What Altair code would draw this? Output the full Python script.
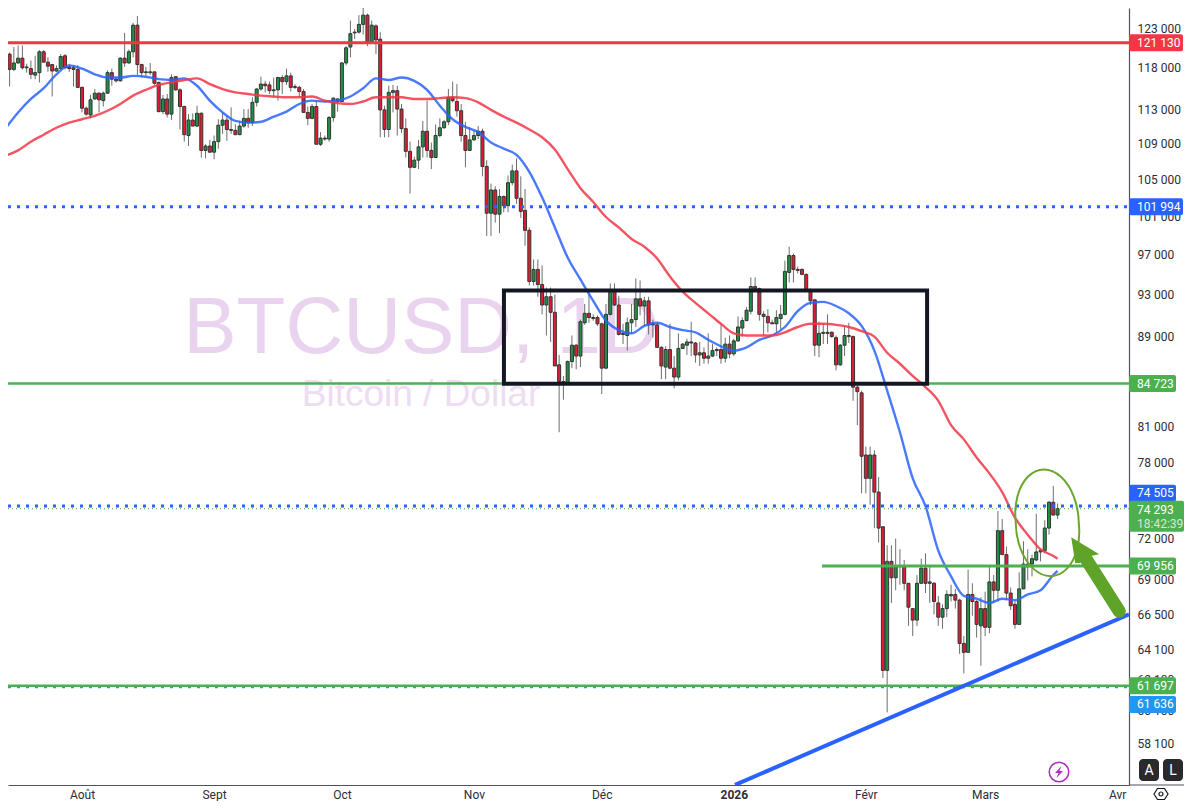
import altair as alt
import pandas as pd

# Daily BTCUSD candles: (open, high, low, close) in thousands of dollars
candles_2025_07 = [
(117.3,119.5,117.2,119.1),(119.0,123.3,118.9,119.7),(119.7,119.9,115.7,117.8),(117.8,120.6,117.6,118.6),(118.6,120.8,118.5,119.2),
(119.2,120.8,117.8,118.0),(118.1,118.5,117.4,118.0),(117.9,118.9,116.6,117.2),(117.1,119.5,116.6,117.4),(117.4,120.2,116.2,120.0),
(120.0,120.2,118.7,118.7),(118.7,119.3,117.5,118.2),(118.4,118.5,114.5,117.6),(117.6,118.3,117.5,117.9),(117.9,119.7,117.8,119.4),
(119.5,119.7,117.8,118.0),(118.1,118.5,117.5,117.9),(118.0,118.3,115.7,117.8),(117.8,118.3,115.5,115.6)]
candles_2025_08 = [
(115.6,115.7,112.6,113.1),(113.1,113.3,112.2,112.4),(112.3,114.7,111.9,114.1),(114.2,115.4,114.1,114.9),(114.9,115.0,112.6,114.1),
(114.0,115.1,113.3,114.9),(114.9,117.7,114.8,117.4),(117.4,117.9,115.8,116.6),(116.6,116.8,116.2,116.4),(116.4,119.3,116.3,119.2),
(119.2,122.4,118.1,118.6),(118.6,120.3,118.5,120.0),(120.0,123.7,119.3,123.4),(123.4,124.6,117.1,118.4),(118.4,118.5,116.8,117.4),
(117.4,118.1,117.0,117.5),(117.4,118.6,117.1,117.5),(117.5,117.5,115.9,116.1),(116.2,116.3,112.6,112.7),(112.7,114.7,112.4,114.2),
(114.2,114.8,112.0,112.4),(112.4,117.2,111.7,116.8),(116.9,116.9,115.2,115.3),(115.3,115.5,110.6,113.3),(113.3,113.4,109.2,110.0),
(109.9,112.4,108.7,111.7),(111.7,112.5,111.0,111.0),(111.0,113.4,110.9,112.5),(112.5,112.6,107.4,108.2),(108.2,108.9,107.3,108.7),
(108.7,109.4,107.9,108.0)]
candles_2025_09 = [
(108.0,109.9,107.2,109.2),(109.2,111.8,108.4,111.1),(111.1,112.6,110.1,111.7),(111.7,112.2,109.3,110.6),(110.6,113.2,110.1,110.5),
(110.5,111.2,110.0,110.0),(110.0,111.6,110.0,111.0),(111.0,113.0,110.8,111.9),(111.9,113.0,110.8,111.4),(111.4,114.4,111.0,113.8),
(113.8,115.5,113.3,115.4),(115.4,116.9,115.2,116.0),(116.0,116.4,115.0,115.8),(115.9,116.3,114.8,115.2),(115.2,116.8,114.4,115.3),
(115.3,116.9,114.0,116.8),(116.8,117.1,114.8,116.3),(116.3,117.9,115.9,117.0),(117.0,117.4,115.1,115.6),(115.6,116.0,115.4,115.7),
(115.6,115.8,114.4,115.1),(115.1,115.4,112.6,112.6),(112.6,113.3,111.1,111.9),(111.9,113.6,111.8,113.3),(113.3,114.0,108.9,108.9),
(108.9,110.3,108.7,109.6),(109.6,109.9,109.3,109.5),(109.5,112.2,109.2,112.0),(112.0,114.4,111.5,114.3),(114.2,114.3,112.7,113.9)]
candles_2025_10 = [
(113.9,118.7,113.9,118.6),(118.6,120.7,118.3,120.5),(120.6,124.0,119.3,122.3),(122.4,122.9,121.6,122.5),(122.5,124.7,122.3,123.5),
(123.5,126.2,122.2,124.7),(124.7,124.9,120.7,121.2),(121.3,124.0,121.2,123.4),(123.3,123.5,119.7,121.5),(121.6,122.5,109.7,112.9),
(112.9,113.4,109.7,110.6),(110.6,115.8,109.7,115.0),(115.0,115.9,112.6,115.2),(115.2,115.8,109.9,113.0),(113.0,113.6,110.2,110.7),
(110.7,111.9,107.4,108.1),(108.1,109.2,103.4,106.3),(106.3,107.5,106.2,107.1),(107.1,109.4,106.1,108.6),(108.6,111.6,107.4,110.4),
(110.4,114.0,107.4,108.2),(108.2,109.1,106.1,107.4),(107.4,111.2,107.4,109.9),(109.9,111.9,109.7,110.8),(110.8,111.7,110.7,111.5),
(111.5,115.4,111.1,114.4),(114.4,116.3,113.8,114.0),(113.9,116.0,112.1,112.8),(112.8,113.6,109.2,109.9),(109.9,111.5,106.3,108.2),
(108.2,110.9,108.2,109.4)]
candles_2025_11 = [
(109.4,110.5,109.3,109.9),(109.9,111.0,109.5,110.4),(110.4,110.7,105.3,106.4),(106.4,107.1,98.9,101.3),(101.3,104.5,98.9,103.8),
(103.8,104.2,100.3,101.2),(101.2,103.9,99.2,103.1),(103.1,103.2,101.4,102.1),(102.1,105.4,101.4,104.6),(104.6,106.6,104.3,105.9),
(105.9,107.3,102.3,102.9),(102.9,105.3,100.8,101.5),(101.6,103.9,97.9,99.5),(99.5,99.8,93.9,94.3),(94.3,96.5,93.9,95.5),
(95.5,96.5,92.8,94.0),(94.0,95.9,91.1,92.0),(92.0,93.7,89.1,92.8),(92.8,93.7,88.5,91.3),(91.3,93.0,86.3,86.3),
(86.4,87.3,80.5,84.9),(84.9,85.4,83.3,84.7),(84.7,86.8,84.7,86.7),(86.7,89.1,86.1,88.2),(88.2,88.3,86.0,87.2),
(87.2,90.6,86.2,90.4),(90.3,92.1,90.1,91.2),(91.2,93.2,90.3,90.8),(90.8,91.1,90.5,90.7),(90.8,91.0,90.0,90.2)]
candles_2025_12 = [
(90.2,90.3,83.8,86.1),(86.1,92.1,86.0,91.1),(91.1,94.1,91.0,93.3),(93.3,94.1,91.9,92.0),(92.0,92.9,89.1,89.2),
(89.3,90.2,88.3,89.2),(89.1,90.8,87.7,90.3),(90.3,92.1,89.3,90.6),(90.6,94.6,89.9,92.6),(92.6,94.4,91.0,91.9),
(91.9,92.8,90.0,92.4),(92.4,92.8,89.2,90.1),(90.2,90.6,88.9,90.1),(90.1,90.3,88.0,88.0),(88.0,88.1,85.1,86.3),
(86.2,88.1,85.1,87.8),(87.8,90.2,86.0,86.1),(86.1,87.2,84.3,85.3),(85.3,89.3,85.0,87.9),(87.9,88.4,87.9,88.3),
(88.2,88.8,87.3,88.5),(88.5,90.4,87.2,88.4),(88.4,88.5,86.6,87.3),(87.3,88.5,86.3,87.5),(87.5,88.0,86.5,87.0),
(87.0,89.3,86.5,87.2),(87.2,88.3,87.1,87.7),(87.7,88.0,87.2,87.8),(87.8,90.2,86.5,87.0),(87.0,88.9,86.6,88.3),
(88.3,89.1,87.0,87.4)]
candles_2026_01 = [
(87.4,88.8,87.2,88.6),(88.6,90.9,88.5,89.9),(89.8,90.8,89.0,90.5),(90.5,91.8,90.5,91.5),(91.4,94.7,91.1,93.8),
(93.8,94.7,93.4,93.6),(93.6,93.7,90.5,91.1),(91.1,91.4,89.1,90.9),(90.9,91.6,89.4,90.3),(90.3,90.6,90.2,90.2),
(90.2,91.5,89.4,90.8),(90.7,92.0,89.7,91.1),(91.1,96.4,91.0,95.3),(95.2,97.8,94.2,96.9),(96.9,97.1,94.2,95.5),
(95.5,95.8,95.1,95.4),(95.5,95.6,95.0,95.0),(95.0,95.1,93.4,93.5),(93.5,93.6,92.0,92.4),(92.5,92.5,87.2,88.2),
(88.2,90.4,87.1,89.3),(89.3,90.2,88.3,89.4),(89.3,91.1,88.3,89.4),(89.4,89.5,88.9,89.0),(88.9,89.1,85.9,86.4),
(86.4,88.3,86.3,88.2),(88.2,90.0,87.2,89.1),(89.1,90.3,88.4,89.0),(89.0,89.1,83.2,84.4),(84.4,84.5,81.1,84.0),
(83.9,84.1,75.5,78.5)]
candles_2026_02 = [
(78.6,79.3,75.5,76.7),(76.7,79.3,74.6,78.6),(78.6,79.0,72.8,75.6),(75.6,76.8,71.7,72.8),(72.9,72.9,62.2,62.7),
(62.7,71.5,60.0,70.3),(70.3,71.5,67.3,69.1),(69.1,72.0,68.2,70.0),(70.0,71.2,68.6,69.9),(70.0,70.4,68.2,68.7),
(68.7,68.7,65.7,67.0),(66.9,66.9,65.0,66.1),(66.1,69.3,65.7,68.7),(68.7,70.5,68.7,69.8),(69.8,70.9,68.0,68.7),
(68.7,70.0,67.3,68.8),(68.7,68.8,66.5,67.4),(67.3,67.8,65.7,66.3),(66.3,67.2,65.5,66.9),(66.9,68.2,66.3,67.9),
(67.9,68.6,67.4,67.8),(67.9,68.3,66.9,67.5),(67.5,67.6,63.8,64.5),(64.5,65.0,62.5,63.9),(63.9,69.7,63.9,67.9),
(67.9,68.7,66.4,67.4),(67.4,67.5,64.9,65.8),(65.7,67.7,63.0,66.9)]
candles_2026_03 = [
(66.9,68.1,65.0,65.6),(65.6,70.0,65.2,68.8),(68.8,69.3,67.3,68.2),(68.2,74.1,67.4,72.6),(72.6,73.5,70.8,70.8),
(70.8,71.4,67.5,68.0),(68.0,68.4,66.8,67.1),(67.2,67.5,65.5,65.8),(65.8,69.5,65.8,68.3),(68.3,71.8,68.3,70.1),
(69.9,71.2,68.9,70.1),(70.1,70.8,69.2,70.5),(70.4,73.9,70.3,71.0),(71.0,71.2,70.3,71.1),(71.1,73.4,70.9,72.8),
(72.8,74.9,72.3,74.8),(74.8,76.1,73.8,73.8),(73.8,74.7,73.5,74.3)]

# Moving averages, one reading every third day from 14 July 2025, then the last candle
ema_fast = [110.7,112.6,114.2,115.5,117.2,118.3,117.9,117.2,116.8,116.8,
117.0,116.9,116.6,116.5,116.7,115.8,114.0,112.6,111.6,111.4,
111.5,112.1,112.7,113.6,114.0,113.9,114.0,114.5,115.5,116.7,
116.5,116.8,116.4,115.3,113.4,111.8,110.9,110.3,109.1,108.4,
107.7,105.8,103.0,99.8,96.7,94.5,92.4,90.5,89.6,89.3,
90.0,90.3,89.9,89.6,89.4,88.7,88.1,87.7,88.0,88.7,
89.1,89.9,91.4,92.2,92.3,91.9,91.2,90.0,87.7,84.1,
80.5,76.7,74.5,71.1,69.2,67.8,67.6,67.3,67.6,67.5,
67.9,68.2,69.3,69.6]
ema_slow = [107.6,108.2,109.2,110.0,110.8,111.4,111.8,112.2,112.8,113.6,
114.6,115.3,115.9,116.2,116.5,116.7,116.0,115.4,115.0,114.8,
114.6,114.5,114.4,114.4,114.5,114.0,113.7,113.6,113.9,114.4,
114.4,114.4,114.2,114.2,114.3,114.4,114.3,113.8,112.9,112.1,
111.4,110.6,109.7,108.3,106.1,104.0,102.5,100.9,99.8,98.6,
97.8,96.6,94.8,93.3,92.2,91.2,90.2,89.3,89.1,89.1,
89.1,89.4,89.9,90.2,90.2,90.1,89.9,89.5,89.0,87.5,
86.5,85.4,84.4,83.2,81.1,79.9,78.4,77.1,75.6,73.6,
72.3,71.2,70.7,70.5]

price_ticks = [123000,118000,113000,109000,105000,101000,97000,93000,89000,81000,78000,72000,69000,66500,64100,62100,60100,58100]
month_ticks = ["2025-08-01","2025-09-01","2025-10-01","2025-11-01","2025-12-01","2026-01-01","2026-02-01","2026-03-01","2026-04-01"]
month_names = ["2026","Févr","Mars","Avr","Mai","Juin","Juil","Août","Sept","Oct","Nov","Déc"]

tag_text = ["121 130","101 994","84 723","74 505","69 956","61 697","61 636"]
tag_pos = [121130,101994,84723,75500,69956,61697,60500]
tag_color = ["#f23645","#2962ff","#4caf50","#2962ff","#4caf50","#4caf50","#2196f3"]
tag_end = [1175,1175,1168,1168,1168,1168,1168]

RED, BLUE, GREEN, SKY = "#f23645", "#2962ff", "#4caf50", "#2196f3"
FONT = "Roboto"
W, H = 1121, 777


def ms(s):
    return int(pd.Timestamp(s).value // 10**6)


x_dom = [ms("2025-07-14T15:00:00"), ms("2026-04-03T18:30:00")]
y_dom = [55596, 125640]
xs = alt.Scale(type="utc", domain=x_dom, padding=0, nice=False)
ys = alt.Scale(type="log", domain=y_dom, nice=False)


def iso(t):
    return t.strftime("%Y-%m-%dT%H:%M:%SZ")


rows = []
for start, month in [("2025-07-13", candles_2025_07), ("2025-08-01", candles_2025_08), ("2025-09-01", candles_2025_09),
                     ("2025-10-01", candles_2025_10), ("2025-11-01", candles_2025_11), ("2025-12-01", candles_2025_12),
                     ("2026-01-01", candles_2026_01), ("2026-02-01", candles_2026_02), ("2026-03-01", candles_2026_03)]:
    for i, (o, h, l, c) in enumerate(month):
        rows.append({"date": iso(pd.Timestamp(start) + pd.Timedelta(days=i)),
                     "open": o * 1000, "high": h * 1000, "low": l * 1000, "close": c * 1000})
candles = pd.DataFrame(rows)

ema_dates = [iso(pd.Timestamp("2025-07-14") + pd.Timedelta(days=3 * i)) for i in range(83)] + ["2026-03-18T00:00:00Z"]
ema = pd.DataFrame({"date": ema_dates, "fast": [v * 1000 for v in ema_fast], "slow": [v * 1000 for v in ema_slow]})

x_axis = alt.Axis(
    values=[ms(m) for m in month_ticks], title=None, ticks=False, grid=False, domainColor="#50535e", domainWidth=1.2,
    labelExpr=f"{month_names}[utcmonth(datum.value)]", labelFont=FONT, labelFontSize=12, labelColor="#2a2e39",
    labelFontWeight={"condition": {"test": "utcmonth(datum.value) == 0", "value": "bold"}, "value": "normal"},
    labelOverlap=False, labelPadding=4, labelFlush=False)
y_axis = alt.Axis(
    orient="right", values=price_ticks, title=None, ticks=False, grid=False, domainColor="#50535e", domainWidth=1.2,
    labelExpr="replace(format(datum.value, ','), ',', ' ')", labelFont=FONT, labelFontSize=12, labelColor="#2a2e39",
    labelOverlap=False, labelPadding=8, labelFlush=False)


def X(field="date"):
    return alt.X(f"{field}:T", scale=xs, axis=x_axis)


def Y(field):
    return alt.Y(f"{field}:Q", scale=ys, axis=y_axis)


layers = []

# watermark
wm = pd.DataFrame({"t": ["BTCUSD, 1D"]})
layers.append(alt.Chart(wm).mark_text(font="Liberation Sans", fontSize=80, color="#e9d3ef", align="center", baseline="middle")
              .encode(x=alt.value(413), y=alt.value(321), text="t:N"))
wm2 = pd.DataFrame({"t": ["Bitcoin / Dollar"]})
layers.append(alt.Chart(wm2).mark_text(font="Liberation Sans", fontSize=37, color="#eddcf2", align="center", baseline="middle")
              .encode(x=alt.value(413), y=alt.value(387), text="t:N"))

# candles
layers.append(alt.Chart(candles).mark_rule(color="#6e6e6e", strokeWidth=1, clip=True)
              .encode(x=X(), y=Y("low"), y2="high:Q"))
layers.append(alt.Chart(candles).mark_bar(size=3, stroke="#333333", strokeWidth=1, clip=True)
              .encode(x=X(), y=Y("open"), y2="close:Q",
                      fill=alt.condition("datum.close >= datum.open", alt.value("#1f9144"), alt.value("#e21c34"))))

# moving averages
layers.append(alt.Chart(ema).mark_line(color=BLUE, strokeWidth=2.4, opacity=0.85, interpolate="monotone", clip=True).encode(x=X(), y=Y("fast")))
layers.append(alt.Chart(ema).mark_line(color=RED, strokeWidth=2.4, opacity=0.85, interpolate="monotone", clip=True).encode(x=X(), y=Y("slow")))


def hline(price, color, width, dash=None, start="2025-07-14T15:00:00Z"):
    d = pd.DataFrame({"p": [price], "a": [start], "b": ["2026-04-03T18:30:00Z"]})
    kw = {"strokeDash": dash} if dash else {}
    return alt.Chart(d).mark_rule(color=color, strokeWidth=width, **kw).encode(x=X("a"), x2="b:T", y=Y("p"))


layers.append(hline(74293, GREEN, 1, [1, 3]))
layers.append(hline(74505, BLUE, 3, [3, 6]))
layers.append(hline(101994, BLUE, 3, [3, 6]))
layers.append(hline(61636, SKY, 3, [3, 6]))
layers.append(hline(121130, RED, 3))
layers.append(hline(84723, GREEN, 2.5))
layers.append(hline(61697, GREEN, 2.5))
layers.append(hline(69956, GREEN, 3, None, "2026-01-21T17:00:00Z"))

# range rectangle
box = pd.DataFrame({"a": ["2025-11-08T01:00:00Z"], "b": ["2026-02-15T09:00:00Z"], "lo": [84700], "hi": [93400]})
layers.append(alt.Chart(box).mark_rect(fillOpacity=0, stroke="#131722", strokeWidth=4)
              .encode(x=X("a"), x2="b:T", y=Y("lo"), y2="hi:Q"))

# trend line
trend = pd.DataFrame({"date": ["2026-01-01T07:00:00Z", "2026-04-03T18:30:00Z"], "p": [55600, 66500]})
layers.append(alt.Chart(trend).mark_line(color=BLUE, strokeWidth=4, clip=True).encode(x=X(), y=Y("p")))

# ellipse and arrow (shape paths are in pixels at size 4, anchored on a date and a price)
ell = pd.DataFrame({"date": ["2026-03-15T14:00:00Z"], "p": [73200]})
layers.append(alt.Chart(ell).mark_point(
    shape="M-31.5,0A31.5,49.5 -6 1 1 31.5,0A31.5,49.5 -6 1 1 -31.5,0Z", size=4, filled=False,
    stroke="#6ba72f", strokeWidth=2, opacity=1).encode(x=X(), y=Y("p")))
arw = pd.DataFrame({"date": ["2026-03-21T05:00:00Z"], "p": [72100]})
layers.append(alt.Chart(arw).mark_point(
    shape="M0,0L28,17L20.5,18.5L53.5,70.5A6.5,6.5 0 0 1 42.5,77.5L9.5,25.5L4,26Z", size=4, filled=True,
    fill="#5fa428", strokeWidth=0, opacity=1).encode(x=X(), y=Y("p")))

# price tags
tags = pd.DataFrame({"t": tag_text, "p": tag_pos, "c": tag_color, "e": tag_end})
for _, r in tags.iterrows():
    one_tag = pd.DataFrame({"p": [r["p"]]})
    layers.append(alt.Chart(one_tag).mark_rect(height=17, cornerRadius=2, fill=r["c"])
                  .encode(x=alt.value(1121), x2=alt.value(int(r["e"])), y=Y("p")))
layers.append(alt.Chart(tags).mark_text(font=FONT, fontSize=12, color="white", align="left", baseline="middle")
              .encode(x=alt.value(1129), y=Y("p"), text="t:N"))
last = pd.DataFrame({"p": [73700]})
layers.append(alt.Chart(last).mark_rect(height=31, cornerRadius=2, fill=GREEN)
              .encode(x=alt.value(1121), x2=alt.value(1176), y=Y("p")))
last_lines = pd.DataFrame({"t": ["74 293", "18:42:39"], "p": [74200, 73100], "o": [1, 0.75]})
layers.append(alt.Chart(last_lines).mark_text(font=FONT, fontSize=12, color="white", align="left", baseline="middle")
              .encode(x=alt.value(1129), y=Y("p"), text="t:N", opacity=alt.Opacity("o:Q", scale=None, legend=None)))

# bottom-right furniture
one = pd.DataFrame({"k": [1]})
layers.append(alt.Chart(one).mark_rule(color="#50535e", strokeWidth=1.2)
              .encode(x=alt.value(1121), x2=alt.value(1176), y=alt.value(777)))
btn = pd.DataFrame({"t": ["A", "L"], "a": [1131, 1155], "b": [1151, 1175], "m": [1141, 1165]})
for _, r in btn.iterrows():
    d = pd.DataFrame({"t": [r["t"]]})
    layers.append(alt.Chart(d).mark_rect(cornerRadius=4, fill="#2a2a2e")
                  .encode(x=alt.value(int(r["a"])), x2=alt.value(int(r["b"])), y=alt.value(751), y2=alt.value(773)))
    layers.append(alt.Chart(d).mark_text(font=FONT, fontSize=14, color="white", align="center", baseline="middle")
                  .encode(x=alt.value(int(r["m"])), y=alt.value(762.5), text="t:N"))
layers.append(alt.Chart(one).mark_point(shape="circle", size=380, filled=False, stroke="#ab30c0", strokeWidth=1.5, opacity=1)
              .encode(x=alt.value(1051), y=alt.value(764)))
layers.append(alt.Chart(one).mark_point(shape="M2.5,-6L-4,1L-0.5,1L-2.5,6L4,-1L0.5,-1Z", size=4, filled=True, fill="#ab30c0", strokeWidth=0, opacity=1)
              .encode(x=alt.value(1051), y=alt.value(764)))
layers.append(alt.Chart(one).mark_point(
    shape="M-7,0L-3.5,-5.5L3.5,-5.5L7,0L3.5,5.5L-3.5,5.5ZM-2,0A2,2 0 1 1 2,0A2,2 0 1 1 -2,0Z", size=4, filled=False,
    stroke="#131722", strokeWidth=1.2, opacity=1).encode(x=alt.value(1153), y=alt.value(786)))

chart = alt.layer(*layers).properties(
    width=W, height=H,
    padding={"left": 0, "top": 0, "right": 55, "bottom": 16},
    autosize=alt.AutoSizeParams(type="none"),
    background="white",
).configure_view(stroke=None)

chart.save("out.html", embed_options={"renderer": "svg", "actions": False})
